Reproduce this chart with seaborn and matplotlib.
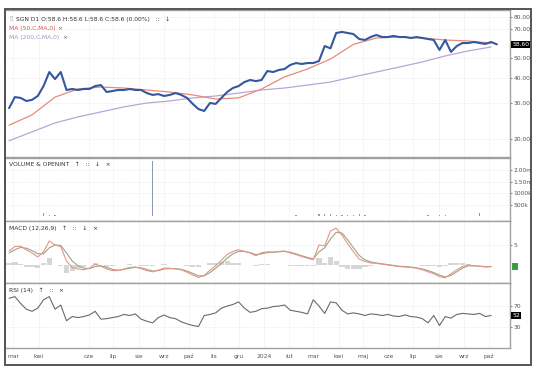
import numpy as np
import pandas as pd
import matplotlib
matplotlib.use("Agg")
import matplotlib.pyplot as plt
import matplotlib.transforms as mtransforms
from matplotlib.patches import Rectangle
import seaborn as sns

# ---------------- data (weekly samples) ----------------
start_date = "2023-02-24"

price_close = [28.4, 32.2, 31.9, 30.8, 31.2, 32.6, 36.5, 42.8, 39.5, 42.8,
               34.9, 35.3, 34.9, 35.3, 35.3, 36.5, 36.9, 34.1, 34.5, 34.9,
               34.9, 35.3, 34.9, 34.9, 33.7, 33.0, 33.3, 32.6, 33.0, 33.7,
               33.0, 31.9, 29.8, 28.1, 27.5, 30.1, 29.8, 31.9, 34.1, 35.7,
               36.5, 38.2, 39.1, 38.6, 39.1, 43.3, 42.8, 43.8, 44.3, 46.4,
               47.4, 46.9, 47.4, 47.4, 48.5, 57.5, 56.0, 66.7, 67.5, 66.7,
               65.9, 62.3, 61.6, 63.7, 65.2, 63.7, 63.7, 64.5, 63.7, 63.7,
               63.0, 63.7, 63.0, 62.3, 61.6, 55.0, 61.6, 53.8, 57.5, 59.5,
               59.5, 60.2, 59.5, 58.9, 60.2, 58.6]

ma50 = [23.4, 26.3, 32.2, 35.3, 36.1, 35.7, 34.9, 34.1, 33.0, 31.5, 31.9,
        35.3, 40.5, 44.3, 49.6, 58.6, 63.0, 63.7, 63.0, 61.6, 60.9, 59.5]
ma200 = [19.6, 21.7, 24.0, 25.7, 27.2, 28.8, 30.1, 30.8, 31.9, 32.6, 33.7,
         34.9, 35.7, 36.9, 38.2, 40.5, 42.8, 45.3, 48.0, 51.4, 54.4, 56.9]

volume_k = [40, 30, 35, 30, 40, 30, 150, 60, 50, 40,
            40, 30, 30, 25, 25, 30, 25, 25, 20, 20,
            25, 20, 20, 20, 25, 2400, 30, 25, 25, 20,
            25, 30, 30, 35, 30, 30, 30, 40, 40, 35,
            30, 30, 30, 25, 35, 40, 40, 35, 30, 40,
            45, 40, 40, 40, 90, 100, 110, 80, 60, 50,
            60, 120, 50, 40, 40, 35, 35, 30, 30, 30,
            30, 35, 40, 80, 40, 60, 50, 40, 35, 30,
            30, 30, 150, 40, 40]

macd_line = [3.5, 4.6, 4.7, 3.8, 3.0, 2.0, 3.3, 6.0, 5.0, 4.6,
             1.0, -0.6, -1.0, -1.2, -0.8, 0.2, -0.3, -1.0, -1.4, -1.4,
             -1.0, -0.6, -0.5, -0.9, -1.4, -1.7, -1.3, -0.8, -0.8, -1.0,
             -1.2, -1.8, -2.5, -3.1, -2.6, -1.3, -0.2, 1.2, 2.6, 3.4,
             3.8, 3.4, 3.0, 2.3, 3.1, 3.3, 3.2, 3.4, 3.5, 3.0,
             2.6, 2.1, 1.7, 1.3, 5.0, 4.8, 8.5, 9.2, 7.5, 5.3,
             3.3, 1.5, 0.9, 0.5, 0.4, 0.2, 0.0, -0.2, -0.4, -0.5,
             -0.6, -0.8, -1.2, -1.7, -2.2, -2.9, -3.2, -2.2, -1.2, -0.4,
             0.0, -0.2, -0.3, -0.5, -0.4]
macd_signal = [3.0, 3.8, 4.4, 4.2, 3.6, 2.8, 2.8, 4.3, 5.0, 4.9,
               3.0, 1.0, -0.2, -0.8, -0.9, -0.4, -0.2, -0.6, -1.1, -1.3,
               -1.1, -0.8, -0.6, -0.7, -1.1, -1.5, -1.4, -1.0, -0.9, -0.9,
               -1.1, -1.5, -2.1, -2.7, -2.7, -1.9, -0.8, 0.4, 1.7, 2.8,
               3.4, 3.4, 3.1, 2.6, 2.8, 3.1, 3.2, 3.3, 3.4, 3.2,
               2.8, 2.3, 1.9, 1.5, 3.3, 4.3, 6.5, 8.2, 8.0, 6.3,
               4.3, 2.4, 1.3, 0.8, 0.5, 0.3, 0.1, -0.1, -0.3, -0.4,
               -0.5, -0.7, -1.0, -1.4, -1.9, -2.5, -3.0, -2.6, -1.7, -0.8,
               -0.2, -0.2, -0.3, -0.4, -0.4]

rsi14 = [85, 88, 75, 64, 60, 66, 82, 88, 64, 72,
         42, 50, 48, 50, 53, 60, 45, 46, 48, 50,
         54, 52, 55, 45, 41, 38, 48, 53, 48, 46,
         40, 36, 33, 31, 52, 54, 57, 66, 70, 73,
         78, 66, 58, 60, 65, 66, 69, 70, 72, 62,
         60, 58, 55, 82, 70, 56, 78, 76, 62, 55,
         57, 55, 52, 55, 54, 52, 54, 51, 50, 53,
         50, 49, 46, 38, 52, 33, 50, 47, 54, 56,
         55, 54, 56, 50, 52]

month_ticks = ["2023-03-01", "2023-04-01", "2023-06-01", "2023-07-01", "2023-08-01",
               "2023-09-01", "2023-10-01", "2023-11-01", "2023-12-01", "2024-01-01",
               "2024-02-01", "2024-03-01", "2024-04-01", "2024-05-01", "2024-06-01",
               "2024-07-01", "2024-08-01", "2024-09-01", "2024-10-01"]
month_labels = ["mar", "kwi", "cze", "lip", "sie", "wrz", "paź", "lis", "gru", "2024",
                "lut", "mar", "kwi", "maj", "cze", "lip", "sie", "wrz", "paź"]

price_ticks = [20, 30, 40, 50, 70, 80]
volume_ticks = [500e3, 1000e3, 1.5e6, 2.0e6]
volume_labels = ["500k", "1000k", "1.50m", "2.00m"]

# ---------------- frames ----------------
d_price = pd.DataFrame({"date": pd.date_range(start_date, periods=len(price_close), freq="7D"),
                        "close": price_close})
d_ma = pd.DataFrame({"date": pd.date_range(start_date, periods=len(ma50), freq="28D"),
                     "ma50": ma50, "ma200": ma200})
d_ind = pd.DataFrame({"date": pd.date_range(start_date, periods=len(macd_line), freq="7D"),
                      "macd": macd_line, "signal": macd_signal, "rsi": rsi14,
                      "vol": np.array(volume_k) * 1000.0})
d_ind["hist"] = d_ind["macd"] - d_ind["signal"]

sns.set_theme(style="white")
plt.rcParams["font.family"] = ["DejaVu Sans"]

W, H = 536, 374
fig = plt.figure(figsize=(W / 100, H / 100), dpi=100)

def fr(y0, y1):
    return [5 / W, 1 - y1 / H, (510 - 5) / W, (y1 - y0) / H]

ax_p = fig.add_axes(fr(10, 157))
ax_v = fig.add_axes(fr(158, 221), sharex=ax_p)
ax_m = fig.add_axes(fr(221, 283), sharex=ax_p)
ax_r = fig.add_axes(fr(283, 348), sharex=ax_p)

xmin, xmax = pd.Timestamp("2023-02-19"), pd.Timestamp("2024-10-27")
tick_dates = pd.to_datetime(month_ticks)
fs = 4.3
tc = "#555555"

for ax in (ax_p, ax_v, ax_m, ax_r):
    ax.set_xlim(xmin, xmax)
    for s in ax.spines.values():
        s.set_color("#a0a0a0")
        s.set_linewidth(1.0)
    ax.spines["left"].set_color("#444444")
    ax.spines["left"].set_linewidth(1.3)
    ax.set_xticks(tick_dates)
    ax.grid(True, color="#e6e6e6", lw=0.5, ls=(0, (1, 1)))
    ax.yaxis.tick_right()
    ax.tick_params(axis="y", labelsize=fs, colors=tc, length=1.5, width=0.5, pad=1)
    ax.set_facecolor("white")

for ax in (ax_p, ax_v, ax_m):
    ax.tick_params(axis="x", labelbottom=False, length=0)

# price panel
sns.lineplot(data=d_ma, x="date", y="ma200", ax=ax_p, color="#b9a6d6", lw=0.9)
sns.lineplot(data=d_ma, x="date", y="ma50", ax=ax_p, color="#e58c75", lw=0.9)
sns.lineplot(data=d_price, x="date", y="close", ax=ax_p, color="#3457a0", lw=1.5)
ax_p.set_yscale("log")
ax_p.set_ylim(16.3, 86.6)
ax_p.yaxis.set_major_locator(matplotlib.ticker.FixedLocator(price_ticks))
ax_p.yaxis.set_minor_locator(matplotlib.ticker.NullLocator())
ax_p.set_yticklabels([f"{v:.2f}" for v in price_ticks])
ax_p.set_xlabel("")
ax_p.set_ylabel("")

bt = mtransforms.blended_transform_factory(ax_p.transAxes, ax_p.transData)
# small lavender marker for the MA(200) value, partly hidden behind the close box
ax_p.add_patch(Rectangle((1.004, ma200[-1] * 0.985), 0.036, ma200[-1] * 0.05,
                         transform=bt, facecolor="#b9a6d6", edgecolor="none",
                         clip_on=False, zorder=3))
ax_p.text(1.004, price_close[-1], "58.60", transform=bt, fontsize=fs, color="white",
          va="center", ha="left", zorder=4,
          bbox=dict(facecolor="black", edgecolor="none", pad=0.6))

ax_p.text(0.008, 0.955, "\u25AF", transform=ax_p.transAxes, fontsize=fs, color="#aaaaaa", va="top")
ax_p.text(0.022, 0.955, "SGN D1 O:58.6 H:58.6 L:58.6 C:58.6 (0.00%)   ::   \u2193",
          transform=ax_p.transAxes, fontsize=fs, color="#333333", va="top")
ax_p.text(0.008, 0.89, "MA (50,C,MA,0)", transform=ax_p.transAxes, fontsize=fs,
          color="#d9534f", va="top")
ax_p.text(0.104, 0.89, "\u00d7", transform=ax_p.transAxes, fontsize=fs, color="#666666", va="top")
ax_p.text(0.008, 0.83, "MA (200,C,MA,0)", transform=ax_p.transAxes, fontsize=fs,
          color="#a48cc8", va="top")
ax_p.text(0.114, 0.83, "\u00d7", transform=ax_p.transAxes, fontsize=fs, color="#666666", va="top")

# volume panel
ax_v.bar(d_ind["date"], d_ind["vol"], width=1.6, color="#8e9ab8", edgecolor="none")
ax_v.set_ylim(-196e3, 2543e3)
ax_v.set_yticks(volume_ticks)
ax_v.set_yticklabels(volume_labels)
ax_v.text(0.008, 0.93, "VOLUME & OPENINT   \u2191   ::   \u2193   \u00d7",
          transform=ax_v.transAxes, fontsize=fs, color="#333333", va="top")

# MACD panel
ax_m.bar(d_ind["date"], d_ind["hist"], width=6.5, color="#d6d6d6", edgecolor="none")
sns.lineplot(data=d_ind, x="date", y="signal", ax=ax_m, color="#9aa58a", lw=0.8)
sns.lineplot(data=d_ind, x="date", y="macd", ax=ax_m, color="#e79585", lw=0.8)
ax_m.set_ylim(-4.5, 11)
ax_m.set_yticks([5])
ax_m.set_yticklabels(["5"])
ax_m.set_xlabel("")
ax_m.set_ylabel("")
bm = mtransforms.blended_transform_factory(ax_m.transAxes, ax_m.transData)
ax_m.text(1.006, macd_line[-1], "0", transform=bm, fontsize=fs, color="#2f8f3a",
          va="center", ha="left", bbox=dict(facecolor="#3aa04a", edgecolor="none", pad=0.8))
ax_m.text(0.008, 0.93, "MACD (12,26,9)   \u2191   ::   \u2193   \u00d7",
          transform=ax_m.transAxes, fontsize=fs, color="#333333", va="top")

# RSI panel
sns.lineplot(data=d_ind, x="date", y="rsi", ax=ax_r, color="#6a6a6a", lw=0.8)
ax_r.set_ylim(-10, 114)
ax_r.set_yticks([30, 70])
ax_r.set_yticklabels(["30", "70"])
ax_r.set_xlabel("")
ax_r.set_ylabel("")
br = mtransforms.blended_transform_factory(ax_r.transAxes, ax_r.transData)
ax_r.text(1.004, rsi14[-1], "52", transform=br, fontsize=fs, color="white",
          va="center", ha="left", bbox=dict(facecolor="black", edgecolor="none", pad=0.7))
ax_r.text(0.008, 0.93, "RSI (14)   \u2191   ::   \u00d7",
          transform=ax_r.transAxes, fontsize=fs, color="#333333", va="top")
ax_r.set_xticks(tick_dates)
ax_r.set_xticklabels(month_labels)
ax_r.tick_params(axis="x", labelsize=fs, colors=tc, length=2, width=0.5, pad=2)

# outer frame
fig.add_artist(Rectangle((5 / W, 1 - 365 / H), (531 - 5) / W, (365 - 9) / H,
                         transform=fig.transFigure, fill=False, edgecolor="#555555", lw=1.4))

fig.savefig("out.png", dpi=100, facecolor="white")
